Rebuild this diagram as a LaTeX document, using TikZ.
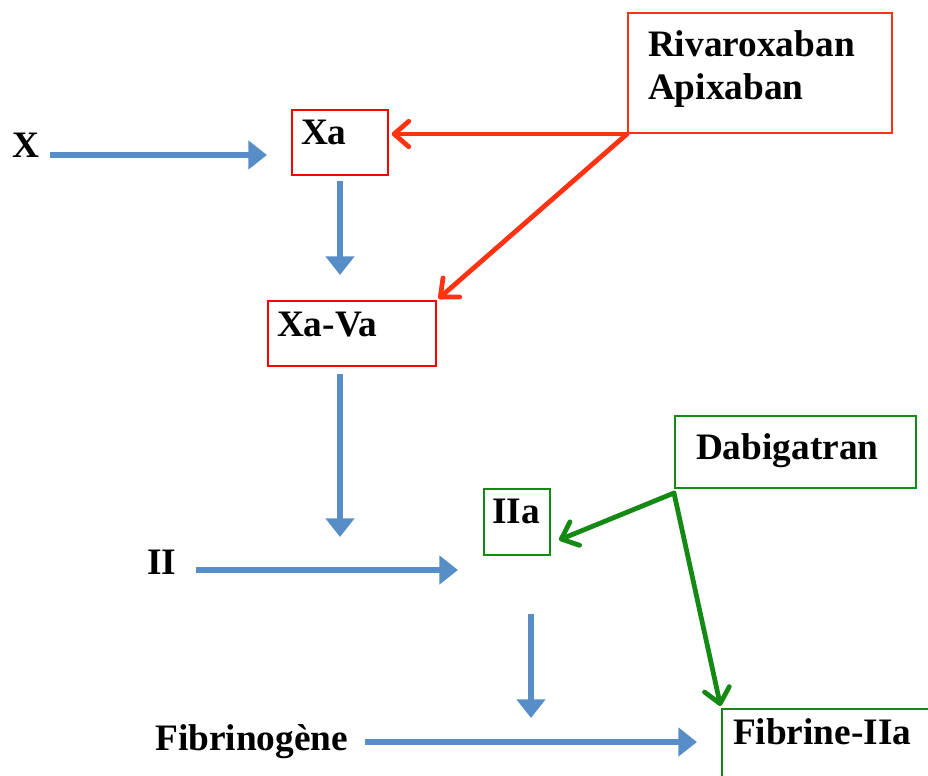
\documentclass[tikz,border=0pt]{standalone}
\usepackage{fontspec}
\setmainfont{Liberation Serif}
\usepackage{tikz}
\usetikzlibrary{arrows.meta}
\definecolor{flowblue}{RGB}{88,142,200}
\definecolor{boxred}{RGB}{255,0,0}
\definecolor{drugred}{RGB}{255,51,17}
\definecolor{druggreen}{RGB}{20,138,20}
\tikzstyle{flow} = [line width=4.5pt, draw=flowblue, -{Triangle[length=14pt,width=21pt]}]
\tikzstyle{inhibred} = [line width=3.6pt, draw=drugred, line cap=round, -{Straight Barb[length=11pt,width=19pt,round]}]
\tikzstyle{inhibgreen} = [line width=3.6pt, draw=druggreen, line cap=round, -{Straight Barb[length=11pt,width=19pt,round]}]
\tikzstyle{lbl} = [inner sep=0pt, anchor=base west, font=\bfseries\fontsize{28}{32}\selectfont]
\tikzstyle{box} = [line width=1.5pt, inner ysep=0pt, align=left, anchor=north west, font=\bfseries\fontsize{28}{32.25}\selectfont]

\begin{document}
\begin{tikzpicture}[x=0.75pt, y=-0.75pt]
			\useasboundingbox (0,0) rectangle (928,775);
			% factor X side
			\node[lbl] (xlab) at (12,157) {X};
			\node[box, draw=boxred, inner xsep=6.75pt, text width=58.5pt, text height=25.5pt, text depth=23.25pt] (xa) at (291,109) {Xa};
			\node[box, draw=boxred, inner xsep=6.75pt, text width=112.5pt, text height=26.25pt, text depth=22.5pt] (xava) at (267,300) {Xa-Va};
			\node[box, draw=drugred, inner xsep=15pt, text width=168pt, text height=32.25pt, text depth=57.75pt] (riv) at (627,12) {Rivaroxaban\\Apixaban};
			% thrombin side
			\node[lbl] (iilab) at (147,574) {II};
			\node[box, draw=druggreen, inner xsep=6pt, text width=37.5pt, text height=25.5pt, text depth=24pt] (iia) at (483,488) {IIa};
			\node[box, draw=druggreen, inner xsep=15.75pt, text width=149.25pt, text height=32.25pt, text depth=21.75pt] (dab) at (674,415) {Dabigatran};
			\node[lbl] (fiblab) at (155,750) {Fibrinogène};
			\node[box, draw=druggreen, inner xsep=8.25pt, text width=162.75pt, text height=26.25pt, text depth=42.75pt] (fibr) at (721,708) {Fibrine-IIa};
			% cascade
			\draw[flow, shorten >=18pt] ([shift={(11,-2)}]xlab.base east) coordinate (xstart) -- (xstart -| xa.west);
			\draw[flow, shorten <=3.75pt, shorten >=18.75pt] (xa.south) -- (xa.south |- xava.north);
			\draw[flow, shorten >=18.75pt] ([shift={(19,-4)}]iilab.base east) coordinate (iistart) -- (iistart -| iia.west);
			\draw[flow, shorten <=5.25pt, shorten >=24.75pt] (xa.south |- xava.south) -- (xa.south |- iistart);
			\draw[flow, shorten >=18pt] ([shift={(17,-8)}]fiblab.base east) coordinate (fibstart) -- (fibstart -| fibr.west);
			\draw[flow, shorten >=18pt] ([shift={(14,58)}]iia.south) coordinate (iiadown) -- (iiadown |- fibstart);
			% inhibitors
			\draw[inhibred, shorten >=2pt] (riv.south west) -- (riv.south west -| xa.east);
			\draw[inhibred, shorten >=1.5pt] (riv.south west) -- (xava.north east);
			\draw[inhibgreen] ([shift={(0,4)}]dab.south west) coordinate (dabc) -- ([shift={(8,-16)}]iia.south east);
			\draw[inhibgreen, shorten >=1.5pt] (dabc) -- (fibr.north west);
		\end{tikzpicture}
\end{document}
